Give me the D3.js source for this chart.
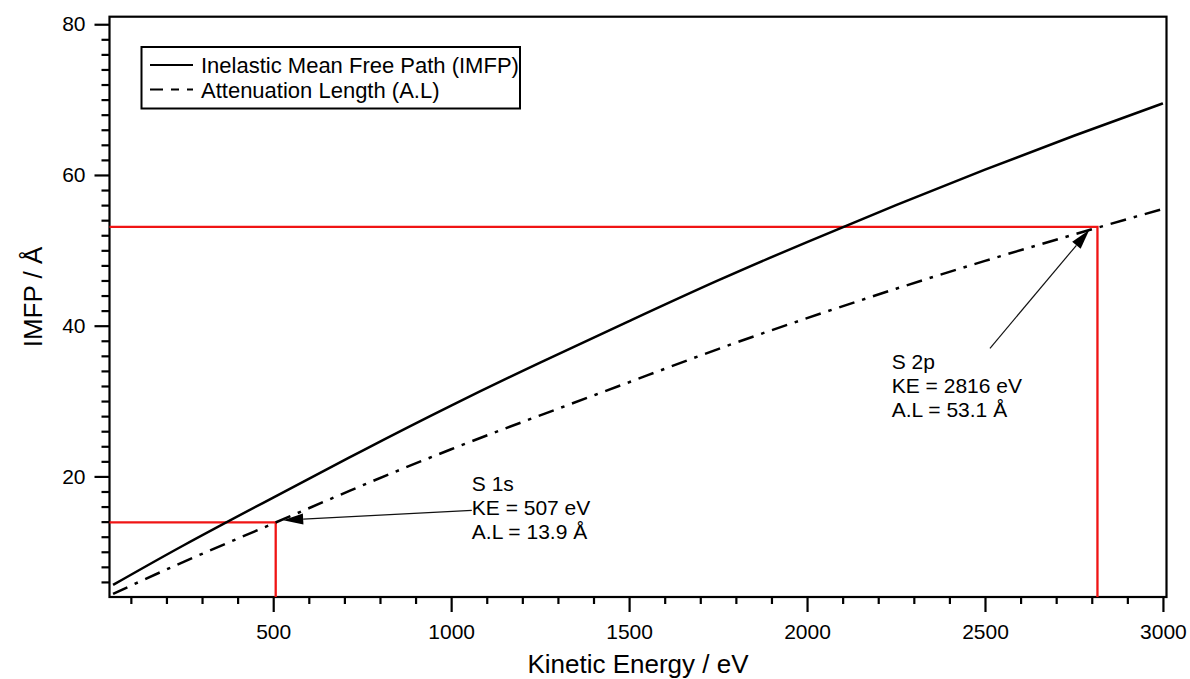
<!DOCTYPE html>
<html>
<head>
<meta charset="utf-8">
<script src="https://cdn.jsdelivr.net/npm/d3@7"></script>
<style>
  html, body { margin: 0; padding: 0; background: #fff; }
  svg { display: block; font-family: "Liberation Sans", Arial, sans-serif; }
</style>
</head>
<body>
<svg id="chart" width="1190" height="679"></svg>
<script>
// Kinetic energy grid (eV) and path lengths (Å)
const energy      = [50, 250, 500, 750, 1000, 1250, 1500, 1750, 2000, 2250, 2500, 2750, 3000];
const imfp        = [5.6, 10.9, 17.2, 23.4, 29.4, 35.1, 40.6, 46.0, 51.1, 56.0, 60.7, 65.2, 69.5];
const attenuation = [4.4, 8.7, 13.75, 18.8, 23.6, 28.1, 32.5, 36.9, 41.0, 44.9, 48.6, 52.1, 55.5];

// Core levels marked on the attenuation-length curve
const peakNames = ["S 1s", "S 2p"];
const peakKE    = [507, 2816];
const peakAL    = [13.9, 53.1];
// Label anchors and arrow ends, in data units [eV, Å]
const labelAt   = [[1058, 18.1], [2238, 34.3]];
const arrowFrom = [[1058, 15.5], [2514, 37.0]];
const arrowTo   = [[528, 14.2], [2793, 52.7]];

const xMajor = [500, 1000, 1500, 2000, 2500, 3000];
const yMajor = [20, 40, 60, 80];

const legendLabels = ["Inelastic Mean Free Path (IMFP)", "Attenuation Length (A.L)"];

const svg = d3.select("#chart");
const x = d3.scaleLinear().domain([40, 3010]).range([109.5, 1166.5]);
const y = d3.scaleLinear().domain([4, 81]).range([597, 16.7]);

const xMinor = d3.range(100, 3001, 100).filter(v => !xMajor.includes(v));
const yMinor = d3.range(6, 81, 2).filter(v => !yMajor.includes(v));

// Axes: major ticks with labels, minor ticks without
const axisFont = 21;
const gx = svg.append("g").attr("transform", `translate(0,${y.range()[0]})`);
gx.call(d3.axisBottom(x).tickValues(xMinor).tickSize(7).tickFormat(""));
gx.select(".domain").remove();
const gxM = svg.append("g").attr("transform", `translate(0,${y.range()[0]})`);
gxM.call(d3.axisBottom(x).tickValues(xMajor).tickSize(15).tickPadding(12).tickFormat(d3.format("d")));
gxM.select(".domain").remove();

const gy = svg.append("g").attr("transform", `translate(${x.range()[0]},0)`);
gy.call(d3.axisLeft(y).tickValues(yMinor).tickSize(8).tickFormat(""));
gy.select(".domain").remove();
const gyM = svg.append("g").attr("transform", `translate(${x.range()[0]},0)`);
gyM.call(d3.axisLeft(y).tickValues(yMajor).tickSize(15).tickPadding(9).tickFormat(d3.format("d")));
gyM.select(".domain").remove();

svg.selectAll(".tick line").attr("stroke", "#000").attr("stroke-width", 2.2);
svg.selectAll(".tick text").attr("fill", "#000").style("font-size", axisFont + "px")
   .style("font-family", "'Liberation Sans', Arial, sans-serif");

// Plot frame
svg.append("rect")
  .attr("x", x.range()[0]).attr("y", y.range()[1])
  .attr("width", x.range()[1] - x.range()[0])
  .attr("height", y.range()[0] - y.range()[1])
  .attr("fill", "none").attr("stroke", "#000").attr("stroke-width", 2.2);

// Axis titles
svg.append("text")
  .attr("x", (x.range()[0] + x.range()[1]) / 2).attr("y", 673)
  .attr("text-anchor", "middle").style("font-size", "26px")
  .text("Kinetic Energy / eV");
svg.append("text")
  .attr("transform", "translate(42,297) rotate(-90)")
  .attr("text-anchor", "middle").style("font-size", "26px")
  .text("IMFP / Å");

// Red guide lines from each core level to the axes
const red = "#f01414";
peakKE.forEach((ke, i) => {
  svg.append("path")
    .attr("d", `M${x.range()[0]},${y(peakAL[i])}H${x(ke)}V${y.range()[0]}`)
    .attr("fill", "none").attr("stroke", red).attr("stroke-width", 2.3);
});

// Curves
const rows = energy.map((e, i) => ({ e, imfp: imfp[i], al: attenuation[i] }));
const lineIMFP = d3.line().x(d => x(d.e)).y(d => y(d.imfp)).curve(d3.curveNatural);
const lineAL   = d3.line().x(d => x(d.e)).y(d => y(d.al)).curve(d3.curveNatural);
const dashDot = "16,8,3.5,8";

svg.append("path").datum(rows).attr("d", lineIMFP)
  .attr("fill", "none").attr("stroke", "#000").attr("stroke-width", 2.5);
svg.append("path").datum(rows).attr("d", lineAL)
  .attr("fill", "none").attr("stroke", "#000").attr("stroke-width", 2.5)
  .attr("stroke-dasharray", dashDot);

// Annotations with arrows
peakNames.forEach((name, i) => {
  const [lx, ly] = labelAt[i];
  const t = svg.append("text")
    .attr("x", x(lx)).attr("y", y(ly)).style("font-size", "21px");
  [name, `KE = ${peakKE[i]} eV`, `A.L = ${peakAL[i]} Å`].forEach((s, k) => {
    t.append("tspan").attr("x", x(lx)).attr("dy", k === 0 ? 0 : 24.3).text(s);
  });

  const x0 = x(arrowFrom[i][0]), y0 = y(arrowFrom[i][1]);
  const x1 = x(arrowTo[i][0]),   y1 = y(arrowTo[i][1]);
  const ang = Math.atan2(y1 - y0, x1 - x0);
  const headLen = 20, headHalf = 5.5;
  const bx = x1 - headLen * Math.cos(ang), by = y1 - headLen * Math.sin(ang);
  svg.append("line")
    .attr("x1", x0).attr("y1", y0).attr("x2", bx).attr("y2", by)
    .attr("stroke", "#111").attr("stroke-width", 1.2);
  const px = -Math.sin(ang), py = Math.cos(ang);
  svg.append("path")
    .attr("d", `M${x1},${y1}L${bx + headHalf * px},${by + headHalf * py}L${bx - headHalf * px},${by - headHalf * py}Z`)
    .attr("fill", "#000");
});

// Legend
const lg = svg.append("g");
lg.append("rect").attr("x", 141.5).attr("y", 47).attr("width", 378.5).attr("height", 61.5)
  .attr("fill", "#fff").attr("stroke", "#000").attr("stroke-width", 2);
const legendDash = [null, "13,8,8,8,6"];
legendLabels.forEach((lab, i) => {
  const cy = 65 + i * 24.5;
  lg.append("line").attr("x1", 150).attr("x2", 193).attr("y1", cy).attr("y2", cy)
    .attr("stroke", "#000").attr("stroke-width", 2.2)
    .attr("stroke-dasharray", legendDash[i]);
  lg.append("text").attr("x", 201).attr("y", cy + 8).style("font-size", "22px").text(lab);
});
</script>
</body>
</html>
